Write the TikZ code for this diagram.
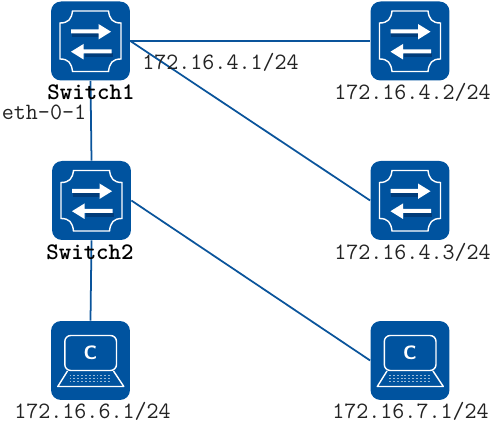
\documentclass[tikz,border=0pt]{standalone}
\usepackage{tikz}
\definecolor{iconblue}{RGB}{0,83,159}
\definecolor{iconshade}{RGB}{0,60,122}
\definecolor{linkblue}{RGB}{10,84,155}
\definecolor{labelgray}{RGB}{35,35,35}
\tikzset{
	iconbox/.style={fill=iconblue, rounded corners=0.2cm, minimum size=1.58cm, inner sep=0pt},
	link/.style={draw=linkblue, line width=1pt},
	addr/.style={inner sep=0pt, text=labelgray, font=\fontsize{13.3}{14}\selectfont\ttfamily},
	devname/.style={inner sep=0pt, font=\fontsize{13.5}{14}\selectfont\ttfamily\bfseries},
	switchglyph/.pic={
		\draw[white, line width=0.8pt] (-18,-30) -- (18,-30) .. controls (19,-22) and (22,-18) .. (30.5,-18) -- (30.5,18) .. controls (22,18) and (19,22) .. (18,30.5) -- (-18,30.5) .. controls (-19,22) and (-22,18) .. (-30.5,18) -- (-30.5,-18) .. controls (-22,-18) and (-19,-22) .. (-18,-30) -- cycle;
		\fill[iconshade] (-19,-8) rectangle (8,-3.5);
		\fill[iconshade] (-6,12.5) rectangle (22,16.5);
		\fill[white] (-19.5,-11.5) -- (8,-11.5) -- (8,-17) -- (20.5,-9.3) -- (8,-1.5) -- (8,-7.5) -- (-19.5,-7.5) -- cycle;
		\fill[white] (21,8.5) -- (-7,8.5) -- (-7,3) -- (-19.5,10.7) -- (-7,18.5) -- (-7,12.5) -- (21,12.5) -- cycle;
	},
	laptopglyph/.pic={
		\draw[white, line width=0.8pt, rounded corners=0.12cm] (-25.7,-25) rectangle (26,10);
		\draw[white, line width=0.8pt, line join=round] (-23,10.5) -- (-32.7,26) -- (33.3,26) -- (23,10.5);
		\foreach \y in {15,18,21}
			\draw[white!60!iconblue, line width=0.9pt, dash pattern=on 1.1pt off 1.1pt] (-21,\y) -- (21,\y);
		\node[white, inner sep=0pt, font=\fontsize{11}{12}\selectfont\sffamily\bfseries] at (0,-7.5) {C};
	},
}
\begin{document}
\begin{tikzpicture}[x=0.02cm, y=-0.02cm]
	\useasboundingbox (0,0) rectangle (491,431);
	% devices
	\node[iconbox] (switch1) at (90.5,41) {};
	\node[iconbox] (switch2) at (91.5,200.5) {};
	\node[iconbox] (switch3) at (410,41) {};
	\node[iconbox] (switch4) at (410,200.5) {};
	\node[iconbox] (laptop1) at (90.5,360.5) {};
	\node[iconbox] (laptop2) at (410,360.5) {};
	\pic at (switch1) {switchglyph};
	\pic at (switch2) {switchglyph};
	\pic at (switch3) {switchglyph};
	\pic at (switch4) {switchglyph};
	\pic at (laptop1) {laptopglyph};
	\pic at (laptop2) {laptopglyph};
	% links
	\draw[link] (switch1.east) -- (switch3.west);
	\draw[link] (switch1.east) -- (switch4.west);
	\draw[link] (switch1.south) -- (switch2.north);
	\draw[link] (switch2.east) -- (laptop2.west);
	\draw[link] (switch2.south) -- (laptop1.north);
	% labels
	\node[devname] (name1) at (91,92) {Switch1};
	\node[devname] (name2) at (90,252) {Switch2};
	\node[addr] (port1) at (44,112) {eth-0-1};
	\node[addr] (addr1) at (220.5,62) {172.16.4.1/24};
	\node[addr] (addr2) at (412.5,92) {172.16.4.2/24};
	\node[addr] (addr3) at (412.5,252) {172.16.4.3/24};
	\node[addr] (addr4) at (92.5,411) {172.16.6.1/24};
	\node[addr] (addr5) at (410.5,411) {172.16.7.1/24};
\end{tikzpicture}
\end{document}
